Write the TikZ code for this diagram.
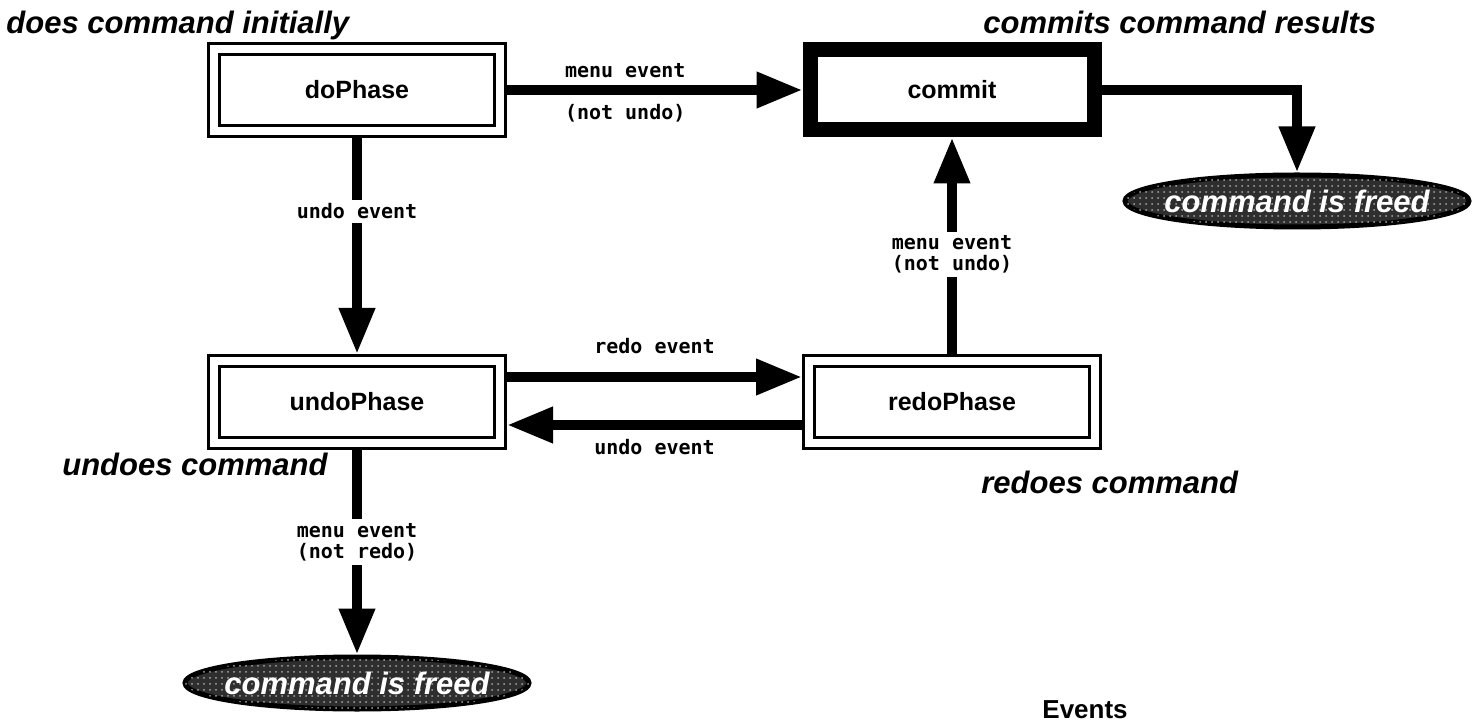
\documentclass[tikz,border=0pt]{standalone}
\usepackage{fontspec}
\setmainfont{Liberation Sans}
\newfontfamily\labelmono{DejaVu Sans Mono}
\usetikzlibrary{arrows.meta,shapes.geometric,positioning,patterns}

\tikzset{
  phase/.style={draw, line width=1.5pt, double=white, double distance=4pt,
    minimum width=143pt, minimum height=41pt, inner sep=0pt, outer sep=3.5pt,
    font=\fontsize{12.5}{14}\selectfont\bfseries},
  commitbox/.style={draw, line width=7.5pt,
    minimum width=142pt, minimum height=40pt, inner sep=0pt, outer sep=3.75pt,
    font=\fontsize{12.5}{14}\selectfont\bfseries},
  freed/.style={ellipse, draw=black, line width=2.5pt, fill=black!82,
    postaction={pattern=dots, pattern color=gray!70},
    minimum width=172pt, minimum height=26pt, inner sep=0pt, outer sep=1.25pt},
  freedtext/.style={text=white, inner sep=0pt,
    font=\fontsize{15.5}{17}\selectfont\bfseries\itshape},
  note/.style={inner sep=0pt, font=\fontsize{15.5}{17}\selectfont\bfseries\itshape},
  eventsttl/.style={inner sep=0pt, font=\fontsize{13}{15}\selectfont\bfseries},
  evlabel/.style={inner sep=2pt, align=center,
    font=\labelmono\fontsize{10}{10.5}\selectfont\bfseries},
  conn/.style={line width=5pt, -{Triangle[length=23pt,width=17pt]}},
}

\begin{document}
\begin{tikzpicture}[x=0.5pt,y=-0.5pt]
\useasboundingbox (0,0) rectangle (1481,726);
\clip (0,0) rectangle (1481,726);

% command phases
\node[phase] (do) at (357,90) {doPhase};
\node[commitbox] (commit) at (952,90) {commit};
\node[phase] (undo) at (357,402) {undoPhase};
\node[phase] (redo) at (952,402) {redoPhase};

% end states
\node[freed, label={[freedtext]center:command is freed}] (free1) at (1297,201) {};
\node[freed, label={[freedtext]center:command is freed}] (free2) at (357,683) {};

% phase descriptions
\node[note, anchor=base west] (n1) at (6,34) {does command initially};
\node[note, anchor=base west] (n2) at (983,34) {commits command results};
\node[note, anchor=base east] (n3) at (328,475) {undoes command};
\node[note, anchor=base west] (n4) at (981,493) {redoes command};
\node[eventsttl, anchor=base west] (ev) at (1042,718) {Events};

% transitions
\draw[conn] (do) --
  node[evlabel, pos=0.4, above=1.5pt] {menu event}
  node[evlabel, pos=0.4, below=2.5pt] {(not undo)} (commit);
\draw[conn] (do) -- node[evlabel, fill=white, pos=0.34] {undo event} (undo);
\draw[conn] ([yshift=12.5pt]undo.east) --
  node[evlabel, above=7pt] {redo event} ([yshift=12.5pt]redo.west);
\draw[conn] ([yshift=-11.5pt]redo.west) --
  node[evlabel, below=2.5pt] {undo event} ([yshift=-11.5pt]undo.east);
\draw[conn] (redo) --
  node[evlabel, fill=white, pos=0.46] {menu event\\(not undo)} (commit);
\draw[conn] (commit.east) -| (free1.north);
\draw[conn] (undo) --
  node[evlabel, fill=white, pos=0.45] {menu event\\(not redo)} (free2);
\end{tikzpicture}
\end{document}
